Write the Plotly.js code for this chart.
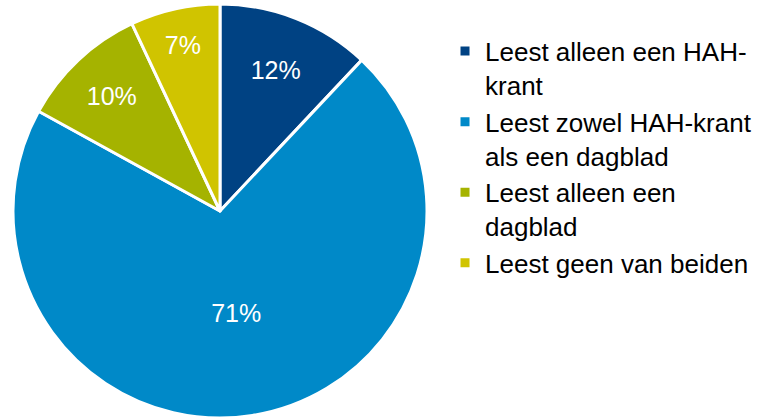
<!DOCTYPE html>
<html><head><meta charset="utf-8">
<script src="https://cdn.plot.ly/plotly-3.0.1.min.js"></script>
<style>html,body{margin:0;padding:0;background:#fff}</style>
</head><body>
<div id="chart" style="width:762px;height:419px"></div>
<script>
const labels = ["Leest alleen een HAH-<br>krant", "Leest zowel HAH-krant<br>als een dagblad", "Leest alleen een<br>dagblad", "Leest geen van beiden"];
const values = [12, 71, 10, 7];
const colors = ["#004283", "#0089C8", "#A5B300", "#D0C400"];

const trace = {
  type: "pie",
  labels: labels,
  values: values,
  sort: false,
  direction: "clockwise",
  rotation: 0,
  marker: {colors: colors, line: {color: "#ffffff", width: 3}},
  texttemplate: "%{value}%",
  textposition: "inside",
  insidetextorientation: "horizontal",
  textfont: {family: "Liberation Sans, Arial, sans-serif", size: 25, color: "#ffffff"},
  hoverinfo: "label+percent",
  domain: {x: [13/762, 427/762], y: [1/419, 415/419]}
};

const layout = {
  width: 762, height: 419,
  margin: {l: 0, r: 0, t: 0, b: 0},
  paper_bgcolor: "#ffffff",
  showlegend: true,
  legend: {
    x: 0.584, y: 0.934, xanchor: "left", yanchor: "top",
    valign: "top",
    font: {family: "Liberation Sans, Arial, sans-serif", size: 26, color: "#000000"},
    traceorder: "normal"
  },
  font: {family: "Liberation Sans, Arial, sans-serif"}
};

Plotly.newPlot("chart", [trace], layout, {displayModeBar: false, staticPlot: true});
</script>
</body></html>
